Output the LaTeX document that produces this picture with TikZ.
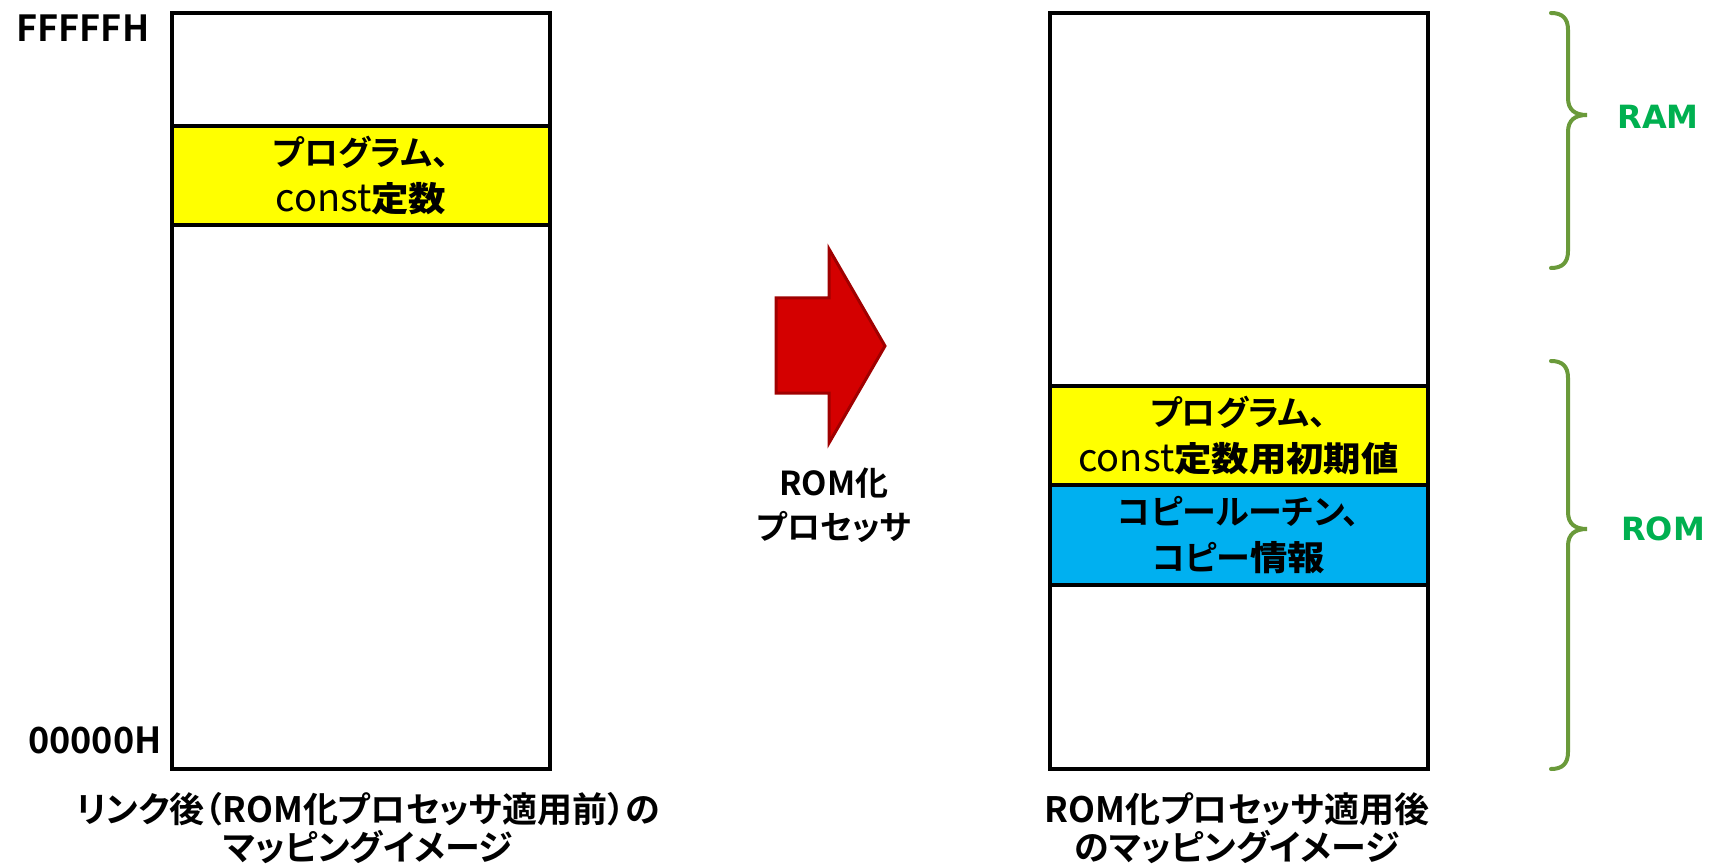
\documentclass[tikz,border=0pt]{standalone}
\usepackage{fontspec}
\newfontfamily\jp[RawFeature=+palt,BoldFont={Noto Sans CJK JP Bold}]{Noto Sans CJK JP}
\newfontfamily\jkb[FakeStretch=1.1]{Noto Sans CJK JP Bold}
\newfontfamily\lat{DejaVu Sans}
\newcommand{\cst}[1]{{\jp\mdseries\fontsize{38}{46}\selectfont #1}}
\newcommand{\kj}[1]{{\jkb #1}}
\definecolor{memyellow}{HTML}{FFFF00}
\definecolor{memblue}{HTML}{00B0F0}
\definecolor{arrowred}{HTML}{D40000}
\definecolor{arrowedge}{HTML}{A00000}
\definecolor{bracegreen}{HTML}{6A9A3A}
\definecolor{labelgreen}{HTML}{00B050}
\begin{document}
\begin{tikzpicture}[x=1pt,y=-1pt,
  membox/.style={draw=black,line width=4pt,minimum width=378pt,inner sep=0pt,outer sep=0pt},
  boxtext/.style={align=center,font=\jp\bfseries\fontsize{34}{46}\selectfont},
  captext/.style={align=center,font=\jp\bfseries\fontsize{35}{38}\selectfont},
  addr/.style={font=\jp\bfseries\fontsize{36}{40}\selectfont},
  memlabel/.style={font=\lat\bfseries\fontsize{32}{36}\selectfont,text=labelgreen},
  bracestyle/.style={draw=bracegreen,line width=4pt,line cap=round}]
\useasboundingbox (0,0) rectangle (1710,866);
% left memory map
\node[membox,minimum height=756pt] (lbox) at (361,391) {};
\node[membox,fill=memyellow,minimum height=99pt,boxtext] (lprog) at (361,175.5)
  {プログラム、\\\cst{const}\kj{定数}};
\node[addr] (ltop) at (83,28) {FFFFFH};
\node[addr] (lbot) at (95,740) {00000H};
\node[captext] (lcap) at (368,828) {リンク後（ROM化プロセッサ適用前）の\\マッピングイメージ};
% arrow
\filldraw[fill=arrowred,draw=arrowedge,line width=3pt,line join=miter]
  (776,298) -- (829,298) -- (829,249) -- (885,346) -- (829,443) -- (829,393) -- (776,393) -- cycle;
\node[captext,font=\jp\bfseries\fontsize{33}{44}\selectfont] (proc) at (834,505) {ROM化\\プロセッサ};
% right memory map
\node[membox,minimum height=756pt] (rbox) at (1238.5,391) {};
\node[membox,fill=memyellow,minimum height=99pt,boxtext] (rprog) at (1238.5,435.5)
  {プログラム、\\\cst{const}\kj{定数用初期値}};
\node[membox,fill=memblue,minimum height=100pt,boxtext] (rcopy) at (1238.5,535)
  {コピールーチン、\\コピー\kj{情報}};
\node[captext] (rcap) at (1237,828) {ROM化プロセッサ適用後\\のマッピングイメージ};
% braces
\draw[bracestyle] (1551,13) .. controls (1562,13) and (1568,18) .. (1568,30) -- (1568,98)
  .. controls (1568,110) and (1575,115) .. (1587,115)
  .. controls (1575,115) and (1568,120) .. (1568,132) -- (1568,251)
  .. controls (1568,263) and (1562,268) .. (1551,268);
\draw[bracestyle] (1551,361) .. controls (1562,361) and (1568,366) .. (1568,378) -- (1568,512)
  .. controls (1568,524) and (1575,529) .. (1587,529)
  .. controls (1575,529) and (1568,534) .. (1568,546) -- (1568,752)
  .. controls (1568,764) and (1562,769) .. (1551,769);
\node[memlabel] (ram) at (1658,117) {RAM};
\node[memlabel] (rom) at (1663,529) {ROM};
\end{tikzpicture}
\end{document}
